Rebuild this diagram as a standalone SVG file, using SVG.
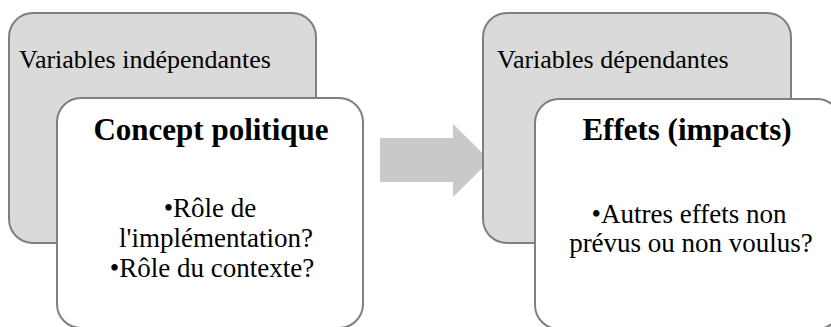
<svg xmlns="http://www.w3.org/2000/svg" width="831" height="327" viewBox="0 0 831 327">
<style>
.back{fill:#dadada;stroke:#7f7f7f;stroke-width:2}
.front{fill:#ffffff;stroke:#7f7f7f;stroke-width:2}
text{font-family:'Liberation Serif',serif;fill:#000}
.lbl{font-size:26px}
.ttl{font-size:31px;font-weight:bold;text-anchor:middle}
.bul{font-size:27px;text-anchor:middle}
.arrow{fill:#c9c9c9}
</style>
<rect width="831" height="327" fill="#ffffff"/>
<g id="left-back">
<rect class="back" x="9" y="13" width="307" height="230" rx="24" ry="24"/>
<text class="lbl" x="19" y="68" font-family="Liberation Serif">Variables indépendantes</text>
</g>
<g id="left-front">
<rect class="front" x="57" y="98" width="306" height="230" rx="24" ry="24"/>
<text class="ttl" x="211" y="140" font-family="Liberation Serif">Concept politique</text>
<text class="bul" x="210" y="217" font-family="Liberation Serif">•Rôle de</text>
<text class="bul" x="216" y="247" font-family="Liberation Serif">l'implémentation?</text>
<text class="bul" x="212" y="277" font-family="Liberation Serif">•Rôle du contexte?</text>
</g>
<g id="connectors">
<polygon class="arrow" points="380,138 453,138 453,124 490,160.5 453,197 453,182 380,182"/>
</g>
<g id="right-back">
<rect class="back" x="483" y="13" width="308" height="230" rx="24" ry="24"/>
<text class="lbl" x="497" y="68" font-family="Liberation Serif">Variables dépendantes</text>
</g>
<g id="right-front">
<rect class="front" x="535" y="99" width="306" height="230" rx="24" ry="24"/>
<text class="ttl" x="687" y="140" font-family="Liberation Serif">Effets (impacts)</text>
<text class="bul" x="689" y="223" font-family="Liberation Serif">•Autres effets non</text>
<text class="bul" x="691" y="252" font-family="Liberation Serif">prévus ou non voulus?</text>
</g>
</svg>
